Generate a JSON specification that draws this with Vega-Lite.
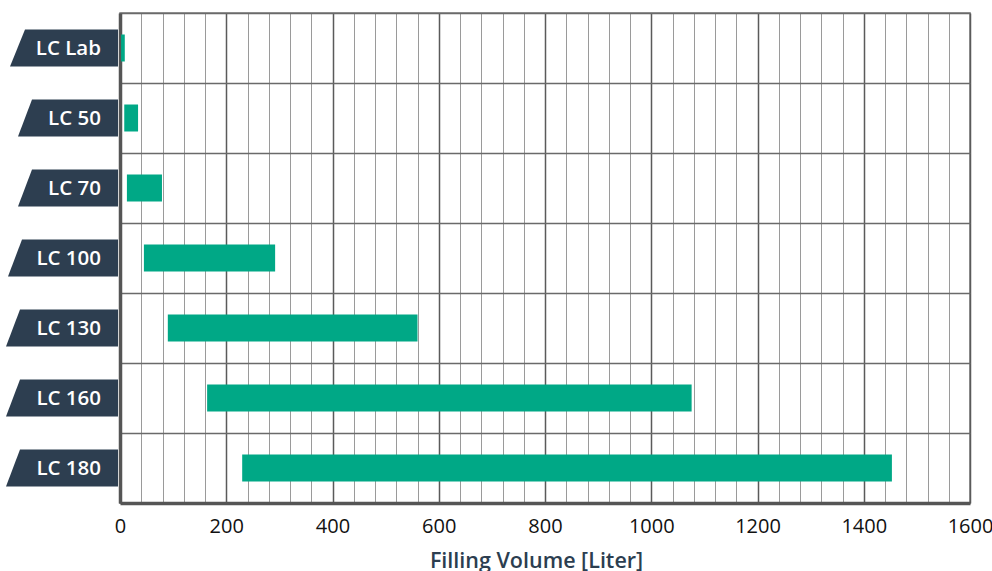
{
  "$schema": "https://vega.github.io/schema/vega-lite/v6.json",
  "width": 850,
  "height": 490,
  "padding": {"left": 6, "top": 13, "right": 2, "bottom": 0},
  "background": "white",
  "data": {
    "values": [
      {"model": "LC Lab", "min": 2, "max": 9},
      {"model": "LC 50", "min": 8, "max": 34},
      {"model": "LC 70", "min": 13, "max": 79},
      {"model": "LC 100", "min": 45, "max": 292},
      {"model": "LC 130", "min": 90, "max": 560},
      {"model": "LC 160", "min": 164, "max": 1076},
      {"model": "LC 180", "min": 230, "max": 1453}
    ]
  },
  "encoding": {
    "y": {
      "field": "model",
      "type": "nominal",
      "sort": null,
      "title": null,
      "scale": {"paddingInner": 0, "paddingOuter": 0},
      "axis": {
        "labels": false,
        "ticks": false,
        "bandPosition": 0,
        "grid": true,
        "gridColor": "#6a6a6a",
        "gridWidth": 1.5,
        "domainColor": "#555555",
        "domainWidth": 3.5
      }
    }
  },
  "layer": [
    {
      "mark": {"type": "bar", "size": 27, "color": "#00a886"},
      "encoding": {
        "x": {
          "field": "min",
          "type": "quantitative",
          "scale": {"domain": [0, 1600], "nice": false},
          "title": "Filling Volume [Liter]",
          "axis": {
            "values": [0, 40, 80, 120, 160, 200, 240, 280, 320, 360, 400, 440, 480, 520, 560, 600, 640, 680, 720, 760, 800, 840, 880, 920, 960, 1000, 1040, 1080, 1120, 1160, 1200, 1240, 1280, 1320, 1360, 1400, 1440, 1480, 1520, 1560, 1600],
            "tickCount": 100,
            "labelExpr": "datum.value % 200 === 0 ? datum.label : ''",
            "labelOverlap": false,
            "format": "d",
            "ticks": false,
            "grid": true,
            "gridColor": {"condition": {"test": "datum.value % 200 === 0", "value": "#5a5a5a"}, "value": "#9a9a9a"},
            "gridWidth": {"condition": {"test": "datum.value % 200 === 0", "value": 1.5}, "value": 1},
            "domainColor": "#555555",
            "domainWidth": 3.5,
            "labelFlush": false,
            "labelFont": "Open Sans",
            "labelFontSize": 20,
            "labelColor": "#111111",
            "labelPadding": 13,
            "titleFont": "Open Sans",
            "titleFontSize": 21.5,
            "titleFontWeight": 600,
            "titleColor": "#2c3e50",
            "titlePadding": 14,
            "titleX": 416
          }
        },
        "x2": {"field": "max"}
      }
    },
    {
      "mark": {"type": "point", "filled": true, "opacity": 1, "size": 40000, "color": "#2d3e50", "strokeWidth": 0},
      "encoding": {
        "x": {"datum": 0, "type": "quantitative"},
        "shape": {
          "field": "model",
          "type": "nominal",
          "legend": null,
          "scale": {
            "domain": ["LC Lab", "LC 50", "LC 70", "LC 100", "LC 130", "LC 160", "LC 180"],
            "range": [
              "M -0.95 -0.185 L -0.02 -0.185 L -0.02 0.185 L -1.10 0.185 Z",
              "M -0.88 -0.185 L -0.02 -0.185 L -0.02 0.185 L -1.02 0.185 Z",
              "M -0.88 -0.185 L -0.02 -0.185 L -0.02 0.185 L -1.02 0.185 Z",
              "M -0.98 -0.185 L -0.02 -0.185 L -0.02 0.185 L -1.12 0.185 Z",
              "M -1.00 -0.185 L -0.02 -0.185 L -0.02 0.185 L -1.14 0.185 Z",
              "M -1.00 -0.185 L -0.02 -0.185 L -0.02 0.185 L -1.14 0.185 Z",
              "M -1.00 -0.185 L -0.02 -0.185 L -0.02 0.185 L -1.14 0.185 Z"
            ]
          }
        }
      }
    },
    {
      "mark": {"type": "text", "align": "right", "baseline": "middle", "dx": -19, "dy": 1, "font": "Open Sans", "fontSize": 20.5, "fontWeight": 600, "color": "white"},
      "encoding": {
        "x": {"datum": 0, "type": "quantitative"},
        "text": {"field": "model"}
      }
    }
  ],
  "config": {
    "view": {"stroke": "#777777", "strokeWidth": 1.5}
  }
}
